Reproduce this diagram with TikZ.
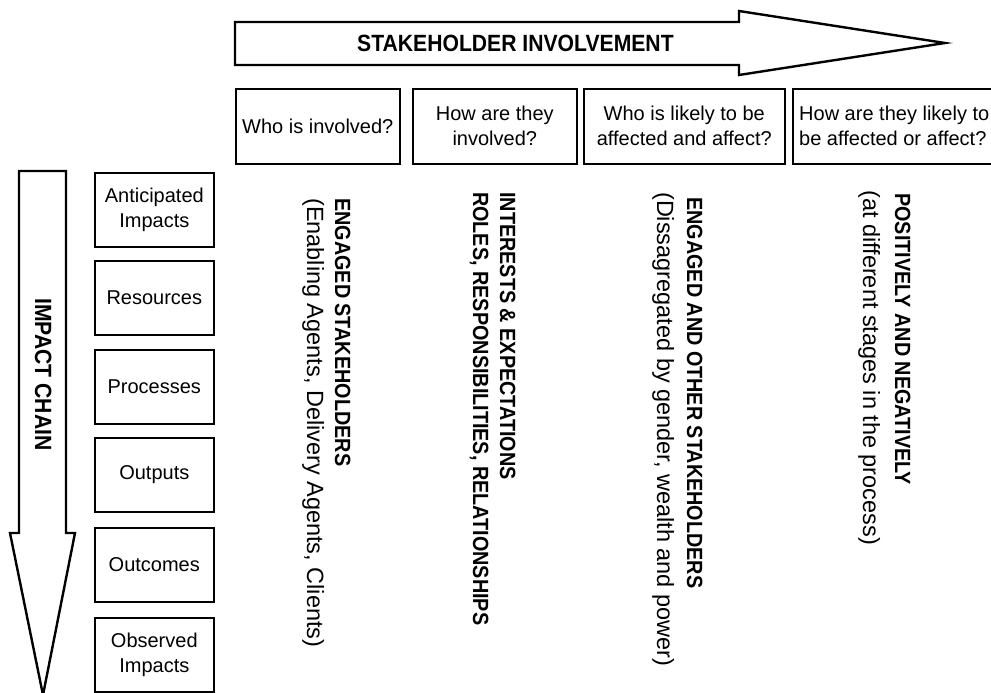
\documentclass[tikz,border=0pt]{standalone}
\usepackage{fontspec}
\setmainfont{Liberation Sans}
\newfontfamily\condfont[FakeStretch=0.9]{Liberation Sans}
\usepackage{tikz}

\begin{document}
\begin{tikzpicture}[x=1pt,y=-1pt,
	qbox/.style={draw, line width=1.6pt, anchor=north west, minimum height=75, inner sep=0pt,
		align=center, font=\fontsize{20}{25}\selectfont},
	chainbox/.style={draw, line width=1.6pt, anchor=north west, minimum width=119, minimum height=74,
		inner sep=0pt, align=center, font=\fontsize{20}{25}\selectfont},
	capline/.style={rotate=-90, anchor=base west, inner sep=0pt, font=\condfont\bfseries\fontsize{22}{26}\selectfont},
	subline/.style={rotate=-90, anchor=base west, inner sep=0pt, font=\fontsize{23.5}{28}\selectfont},
	bigarrow/.style={draw, line width=2.4pt, line join=miter, fill=white}]

	\useasboundingbox (0,0) rectangle (991,693);

	\draw[bigarrow] (235,22) -- (739,22) -- (739,11) -- (945,43) -- (739,75) -- (739,65) -- (235,65) -- cycle;
	\node[anchor=base west, inner sep=0pt, font=\condfont\bfseries\fontsize{23.5}{28}\selectfont] (involve) at (357,52) {STAKEHOLDER INVOLVEMENT};

	\draw[bigarrow] (19,171) -- (66,171) -- (66,533) -- (75,533) -- (43,695) -- (10,533) -- (19,533) -- cycle;
	\node[rotate=-90, anchor=base west, inner sep=0pt, font=\condfont\bfseries\fontsize{23.5}{28}\selectfont] (chain) at (35,298) {IMPACT CHAIN};

	\node[qbox, minimum width=164] (who) at (235,88) {Who is involved?};
	\node[qbox, minimum width=164] (how) at (412,88) {How are they\\involved?};
	\node[qbox, minimum width=201] (likely) at (583,88) {Who is likely to be\\affected and affect?};
	\node[qbox, minimum width=203] (affect) at (792,88) {};
	\node[anchor=west, inner sep=0pt, align=left, font=\fontsize{20}{25}\selectfont] (affecttxt) at ([xshift=7pt]affect.west) {How are they likely to\\be affected or affect?};

	\node[chainbox] (anticipated) at (94,172) {Anticipated\\Impacts};
	\node[chainbox] (resources) at (94,260) {Resources};
	\node[chainbox] (processes) at (94,349) {Processes};
	\node[chainbox] (outputs) at (94,437) {Outputs};
	\node[chainbox] (outcomes) at (94,527) {Outcomes};
	\node[chainbox] (observed) at (94,617) {Observed\\Impacts};

	\node[capline] (engaged) at (335,198) {ENGAGED STAKEHOLDERS};
	\node[subline] (agents) at (307,198) {(Enabling Agents, Delivery Agents, Clients)};

	\node[capline] (interests) at (500,192) {INTERESTS \& EXPECTATIONS};
	\node[capline] (roles) at (473,192) {ROLES, RESPONSIBILITIES, RELATIONSHIPS};

	\node[capline] (others) at (687,197) {ENGAGED AND OTHER STAKEHOLDERS};
	\node[subline] (disagg) at (657,192) {(Dissagregated by gender, wealth and power)};

	\node[capline] (posneg) at (895,193) {POSITIVELY AND NEGATIVELY};
	\node[subline] (stages) at (863,190) {(at different stages in the process)};

\end{tikzpicture}
\end{document}
